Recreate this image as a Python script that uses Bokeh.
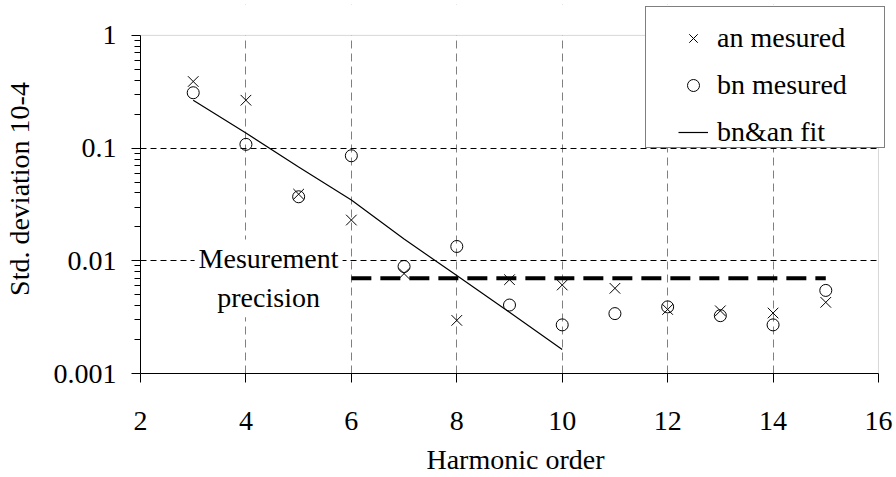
from bokeh.plotting import figure
from bokeh.models import (Range1d, FixedTicker, CustomJSTickFormatter, Legend,
                          LegendItem, Label, BoxAnnotation)
from bokeh.embed import file_html
from bokeh.resources import INLINE

# ---------------- data ----------------
harmonic = [3, 4, 5, 6, 7, 8, 9, 10, 11, 12, 13, 14, 15]
an_measured = [0.39, 0.266, 0.039, 0.023, 0.0077, 0.00296, 0.0068, 0.0061,
               0.0057, 0.0037, 0.0036, 0.00344, 0.00428]
bn_measured = [0.31, 0.108, 0.037, 0.0855, 0.0089, 0.0134, 0.00405, 0.0027,
               0.0034, 0.0039, 0.00326, 0.0027, 0.00546]
fit_x = [3, 4, 5, 6, 7, 8, 9, 10]
fit_y = [0.266, 0.136, 0.068, 0.0347, 0.0156, 0.0074, 0.0035, 0.00163]
precision_x = [6, 15]
precision_y = [0.007, 0.007]
x_ticks = [2, 4, 6, 8, 10, 12, 14, 16]
y_ticks = [0.001, 0.01, 0.1, 1]
y_tick_labels = ["0.001", "0.01", "0.1", "1"]
y_minor_ticks = [m * 10.0 ** e for e in (-3, -2, -1) for m in range(2, 10)]
legend_labels = ["an mesured", "bn mesured", "bn&an fit"]
annotation_text = "Mesurement\nprecision"

# axis extents of the chart area
x_lo, x_hi = 2, 16
y_lo, y_hi = 0.001, 1

# ---------------- layout ----------------
FONT = "Liberation Serif"
FS = "28px"
# the frame is enlarged a little beyond the axes (top/right) so that the
# legend box, which overhangs the chart area in the original, is not clipped
PX_PER_X = 52.714
PX_PER_DECADE = 113.0
EXTRA_RIGHT = 12
EXTRA_TOP = 31
x_end = x_hi + EXTRA_RIGHT / PX_PER_X
y_end = y_hi * 10 ** (EXTRA_TOP / PX_PER_DECADE)

p = figure(width=896, height=477, x_range=Range1d(x_lo, x_end),
           y_range=Range1d(y_lo, y_end),
           y_axis_type="log", output_backend="svg", toolbar_location=None,
           min_border_left=140, min_border_right=896 - 140 - 738 - EXTRA_RIGHT,
           min_border_top=35 - EXTRA_TOP, min_border_bottom=103)
p.background_fill_color = "white"
p.border_fill_color = "white"
p.outline_line_color = None

# axes
p.xaxis.ticker = FixedTicker(ticks=x_ticks)
p.yaxis.ticker = FixedTicker(ticks=y_ticks, minor_ticks=y_minor_ticks)
p.yaxis.formatter = CustomJSTickFormatter(
    args=dict(t=y_ticks, l=y_tick_labels),
    code="""
    for (let i = 0; i < t.length; i++) {
        if (Math.abs(Math.log10(t[i]) - Math.log10(tick)) < 1e-6) return l[i];
    }
    return '';
    """)
p.xaxis.bounds = (x_lo, x_hi)
p.yaxis.bounds = (y_lo, y_hi)
for ax in (p.xaxis[0], p.yaxis[0]):
    ax.axis_line_color = "black"
    ax.axis_line_width = 1
    ax.major_tick_line_color = "black"
    ax.minor_tick_line_color = "black"
    ax.major_tick_in = 0
    ax.major_tick_out = 9
    ax.minor_tick_in = 0
    ax.major_label_text_font = FONT
    ax.major_label_text_font_size = FS
    ax.major_label_text_color = "black"
    ax.axis_label_text_font = FONT
    ax.axis_label_text_font_size = FS
    ax.axis_label_text_font_style = "normal"
    ax.axis_label_text_color = "black"
p.xaxis.minor_tick_out = 0
p.yaxis.minor_tick_out = 6
p.xaxis.axis_label = "Harmonic order"
p.yaxis.axis_label = "Std. deviation 10-4"
p.xaxis.major_label_standoff = 29
p.xaxis.axis_label_standoff = 11
p.yaxis.major_label_standoff = 15
p.yaxis.axis_label_standoff = 16

# grids (interior lines only; the chart border is drawn separately)
p.xgrid.ticker = FixedTicker(ticks=x_ticks[1:-1])
p.ygrid.ticker = FixedTicker(ticks=y_ticks[1:-1])
p.xgrid.grid_line_color = "#808080"
p.xgrid.grid_line_dash = "8 5"
p.xgrid.grid_line_width = 1
p.ygrid.grid_line_color = "black"
p.ygrid.grid_line_dash = "6 4"
p.ygrid.grid_line_width = 1

# white covers hide the grid outside the chart area, then the chart border
cover_top = BoxAnnotation(bottom=y_hi, fill_color="white", fill_alpha=1,
                          line_alpha=0, level="underlay")
cover_right = BoxAnnotation(left=x_hi, fill_color="white", fill_alpha=1,
                            line_alpha=0, level="underlay")
chart_border = BoxAnnotation(left=x_lo, right=x_hi, bottom=y_lo, top=y_hi,
                             fill_alpha=0, line_color="#808080", line_width=1,
                             level="underlay")
p.add_layout(cover_top)
p.add_layout(cover_right)
p.add_layout(chart_border)

# data
r_fit = p.line(fit_x, fit_y, line_color="black", line_width=1.2)
r_prec = p.line(precision_x, precision_y, line_color="black", line_width=4,
                line_dash="20 9")
r_an = p.scatter(harmonic, an_measured, marker="x", size=15, line_color="black",
                 line_width=1)
r_bn = p.scatter(harmonic, bn_measured, marker="circle", size=12, fill_color=None,
                 line_color="black", line_width=1)

# annotation text
lab = Label(x=4.43, y=0.007, text=annotation_text, text_align="center",
            text_baseline="middle", text_font=FONT, text_font_size=FS,
            text_color="black", text_line_height=1.25,
            background_fill_color="white", padding=4)
p.add_layout(lab)

# legend frame (a label-less legend used only as the white bordered box)
box_legend = Legend(items=[LegendItem(label=" ", renderers=[r_fit])],
                    location=(505, 225), glyph_width=0, glyph_height=140,
                    label_width=238, label_height=140, label_standoff=0,
                    padding=0, spacing=0, margin=0,
                    label_text_font_size="2px",
                    border_line_color="black", border_line_width=1,
                    background_fill_color="white", background_fill_alpha=1)
p.add_layout(box_legend, "center")

legend = Legend(items=[LegendItem(label=legend_labels[0], renderers=[r_an]),
                       LegendItem(label=legend_labels[1], renderers=[r_bn]),
                       LegendItem(label=legend_labels[2], renderers=[r_fit])],
                location=(538, 225), label_text_font=FONT, label_text_font_size=FS,
                label_text_color="black", glyph_width=30, glyph_height=32,
                label_height=32, spacing=15, padding=8, label_standoff=9,
                border_line_color=None, background_fill_alpha=0, margin=0)
p.add_layout(legend, "center")

open("out.html", "w").write(file_html(p, INLINE))
